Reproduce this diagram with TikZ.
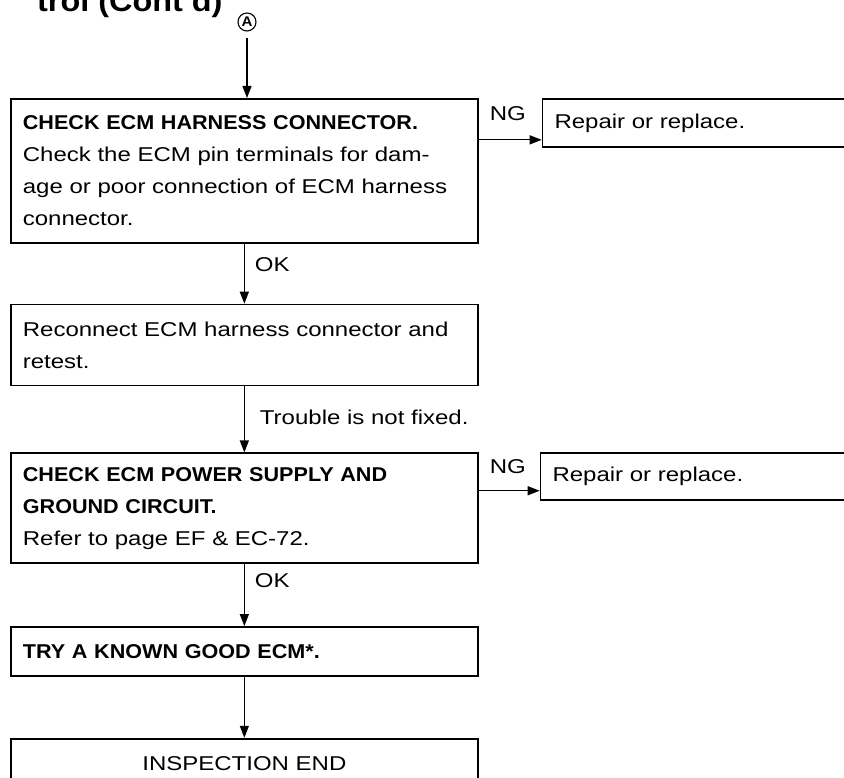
\documentclass[tikz,border=0pt]{standalone}
\usepackage{fontspec}
\setmainfont{Liberation Sans}[FakeStretch=1.2,BoldFeatures={FakeStretch=1.08}]
\usetikzlibrary{positioning,arrows.meta,calc}

\begin{document}
\begin{tikzpicture}[x=1pt, y=-1pt,
  every node/.style={font=\fontsize{20}{32}\selectfont},
  box/.style ={draw, line width=1.7pt, minimum width=467pt,
               text width=443pt, align=left,
               inner xsep=12pt, inner ysep=0pt},
  rbox/.style={draw, line width=1.7pt, minimum width=312pt,
               minimum height=48pt, text width=288pt, align=left,
               inner xsep=12pt, inner ysep=0pt},
  arr/.style ={-{Triangle[length=12pt,width=9pt]}, line width=1.2pt},
  lbl/.style ={inner sep=0pt},
  node distance=60pt
]
\useasboundingbox (0,0) rectangle (844,778);
\clip (0,0) rectangle (844,778);

%% --- Head (cut off at the page top) ---------------------------
\node[lbl, anchor=base west, font=\fontsize{30}{30}\selectfont\bfseries]
     (title) at (37,12) {trol (Cont'd)};
\node[circle, draw, line width=1.1pt, inner sep=0pt, minimum size=18pt,
      font=\fontsize{14}{14}\selectfont\bfseries] (conA) at (247,22) {A};

%% --- Harness connector check ----------------------------------
\node[box, minimum height=144pt, anchor=north west] (harn) at (10,98)
     {\textbf{CHECK ECM HARNESS CONNECTOR.}\\
      Check the ECM pin terminals for dam-\\
      age or poor connection of ECM harness\\
      connector.};
\node[rbox, right=63pt of harn.north east, anchor=north west] (rep1)
     {Repair or replace.};

\draw[arr] ([yshift=-6pt]conA.south) -- (conA |- harn.north);
\draw[arr] ([yshift=-17pt]rep1.west -| harn.east) -- ([yshift=-17pt]rep1.west);
\node[lbl, anchor=north west] (ng1) at ([xshift=11pt,yshift=-8pt]harn.north east) {NG};

%% --- Reconnect ------------------------------------------------
\node[box, minimum height=81pt, below=60pt of harn] (recon)
     {Reconnect ECM harness connector and\\
      retest.};
\draw[arr] (harn) -- (recon) node[lbl, pos=.35, right=10pt] {OK};

%% --- Power supply and ground ----------------------------------
\node[box, minimum height=110pt, below=66pt of recon] (power)
     {\textbf{CHECK ECM POWER SUPPLY AND}\\
      \textbf{GROUND CIRCUIT.}\\
      Refer to page EF \& EC-72.};
\node[rbox, minimum height=47pt, right=61pt of power.north east,
      anchor=north west] (rep2) {Repair or replace.};

\draw[arr] (recon) -- (power) node[lbl, pos=.47, right=15pt] {Trouble is not fixed.};
\draw[arr] ([yshift=-14pt]rep2.west -| power.east) -- ([yshift=-14pt]rep2.west);
\node[lbl, anchor=north west] (ng2) at ([xshift=11pt,yshift=-7pt]power.north east) {NG};

%% --- Known good ECM and end -----------------------------------
\node[box, minimum height=49pt, below=62pt of power] (tryecm)
     {\textbf{TRY A KNOWN GOOD ECM*.}};
\node[box, minimum height=50pt, below=61pt of tryecm, align=center] (endn)
     {INSPECTION END};

\draw[arr] (power) -- (tryecm) node[lbl, pos=.27, right=10pt] {OK};
\draw[arr] (tryecm) -- (endn);

\end{tikzpicture}
\end{document}
